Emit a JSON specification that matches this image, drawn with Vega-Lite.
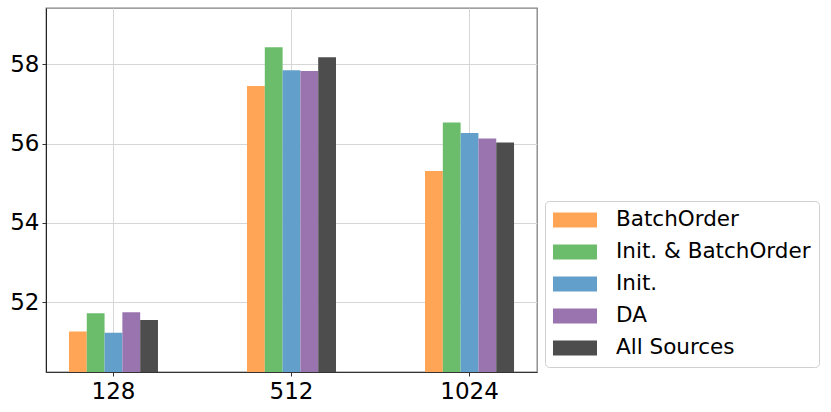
{
  "$schema": "https://vega.github.io/schema/vega-lite/v6.json",
  "autosize": "none",
  "width": 491,
  "height": 364,
  "padding": {"left": 46, "top": 8, "right": 294, "bottom": 40},
  "background": "white",
  "config": {
    "font": "DejaVu Sans",
    "view": {"stroke": "#808080", "strokeWidth": 1.3}
  },
  "data": {
    "values": [
      {"size": "128", "method": "BatchOrder", "value": 51.26},
      {"size": "128", "method": "Init. & BatchOrder", "value": 51.72},
      {"size": "128", "method": "Init.", "value": 51.23},
      {"size": "128", "method": "DA", "value": 51.75},
      {"size": "128", "method": "All Sources", "value": 51.55},
      {"size": "512", "method": "BatchOrder", "value": 57.45},
      {"size": "512", "method": "Init. & BatchOrder", "value": 58.43},
      {"size": "512", "method": "Init.", "value": 57.85},
      {"size": "512", "method": "DA", "value": 57.83},
      {"size": "512", "method": "All Sources", "value": 58.18},
      {"size": "1024", "method": "BatchOrder", "value": 55.31},
      {"size": "1024", "method": "Init. & BatchOrder", "value": 56.53},
      {"size": "1024", "method": "Init.", "value": 56.27},
      {"size": "1024", "method": "DA", "value": 56.13},
      {"size": "1024", "method": "All Sources", "value": 56.03}
    ]
  },
  "mark": {"type": "bar", "clip": true},
  "encoding": {
    "x": {
      "field": "size", "type": "nominal", "sort": ["128", "512", "1024"],
      "scale": {"paddingInner": 0.5, "paddingOuter": 0.129},
      "axis": {
        "title": null, "labelAngle": 0, "labelFontSize": 23, "labelColor": "black",
        "labelPadding": 4, "tickSize": 4, "tickColor": "#333", "domainColor": "#333",
        "grid": true, "gridColor": "#d6d6d6", "bandPosition": 0.5
      }
    },
    "xOffset": {
      "field": "method", "type": "nominal",
      "sort": ["BatchOrder", "Init. & BatchOrder", "Init.", "DA", "All Sources"],
      "scale": {"paddingInner": 0, "paddingOuter": 0}
    },
    "y": {
      "field": "value", "type": "quantitative",
      "scale": {"domain": [50.24, 59.42], "zero": false, "nice": false},
      "axis": {
        "title": null, "values": [52, 54, 56, 58], "labelFontSize": 23, "labelColor": "black",
        "labelPadding": 3, "tickSize": 4, "tickColor": "#333", "domainColor": "#222",
        "grid": true, "gridColor": "#d6d6d6"
      }
    },
    "color": {
      "field": "method", "type": "nominal",
      "sort": ["BatchOrder", "Init. & BatchOrder", "Init.", "DA", "All Sources"],
      "scale": {
        "domain": ["BatchOrder", "Init. & BatchOrder", "Init.", "DA", "All Sources"],
        "range": ["#FFA555", "#6BBD6B", "#62A0CB", "#9A74AE", "#4D4D4D"]
      },
      "legend": {
        "title": null, "orient": "none", "legendX": 499, "legendY": 193,
        "labelFontSize": 21.5, "labelColor": "black", "labelOffset": 30,
        "symbolType": "M-2,-0.68H2V0.68H-2Z", "symbolSize": 484, "symbolStrokeWidth": 0,
        "symbolOpacity": 1, "symbolOffset": 11,
        "rowPadding": 10, "padding": 8, "strokeColor": "#d0d0d0", "cornerRadius": 4,
        "fillColor": "white", "labelLimit": 300
      }
    }
  }
}
